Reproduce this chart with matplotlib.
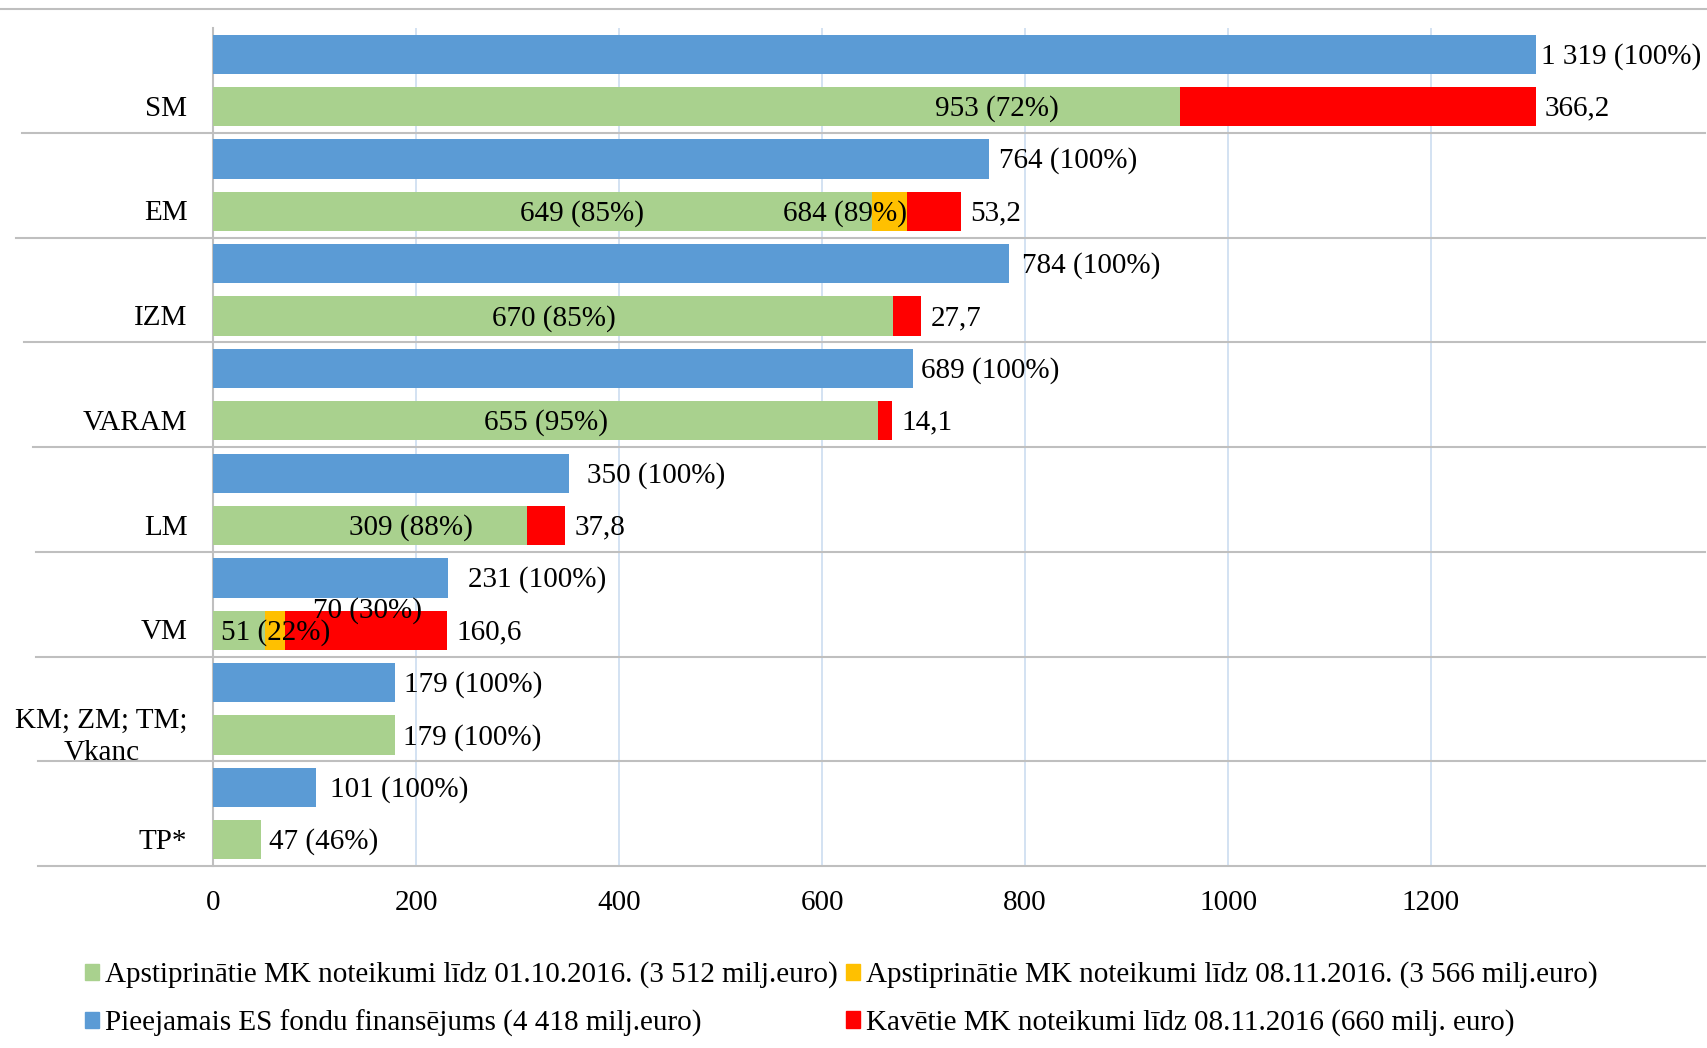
import numpy as np
import matplotlib
matplotlib.use("Agg")
import matplotlib.pyplot as plt
from matplotlib.lines import Line2D
from matplotlib.patches import Patch
from matplotlib.transforms import blended_transform_factory

plt.rcParams['font.family'] = ['Liberation Serif', 'DejaVu Serif']

# ---------------- data ----------------
categories = ['SM', 'EM', 'IZM', 'VARAM', 'LM', 'VM', 'KM; ZM; TM;\nVkanc', 'TP*']
available = [1319, 764, 784, 689, 350, 231, 179, 101]          # Pieejamais ES fondu finansējums
approved_oct = [953, 649, 670, 655, 309, 51, 179, 47]          # līdz 01.10.2016
approved_nov = [953, 684, 670, 655, 309, 70, 179, 47]          # līdz 08.11.2016 (cumulative)
delayed = [366.2, 53.2, 27.7, 14.1, 37.8, 160.6, 0, 0]         # Kavētie MK noteikumi
pct_oct = [72, 85, 85, 95, 88, 22, 100, 46]
pct_nov = [None, 89, None, None, None, 30, None, None]
x_ticks = [0, 200, 400, 600, 800, 1000, 1200]
x_max = 1303   # axis maximum (longest bars are cut at it)

legend_labels = [
    'Apstiprinātie MK noteikumi līdz 01.10.2016. (3 512 milj.euro)',
    'Pieejamais ES fondu finansējums (4 418 milj.euro)',
    'Apstiprinātie MK noteikumi līdz 08.11.2016. (3 566 milj.euro)',
    'Kavētie MK noteikumi līdz 08.11.2016 (660 milj. euro)',
]

# ---------------- style / layout ----------------
C_BLUE = '#5B9BD5'
C_GREEN = '#A9D18E'
C_ORANGE = '#FFC000'
C_RED = '#FF0000'
C_SEP = '#BFBFBF'
C_GRID = '#CCDDF0'
FS = 21
DY = -2  # small downward shift of texts (pixels)

green_label_frac = [0.81, 0.56, 0.5, 0.5, 0.63, None, None, None]
blue_label_off = [5, 10, 13, 8, 18, 20, 9, 14]
sep_left_px = [22, 16, 24, 33, 36, 36, 38, 38]

W, H = 1708, 1048
fig = plt.figure(figsize=(W / 100, H / 100), dpi=100)
px_per_unit = (1431 - 213.5) / 1200
ax_left = 213.5
ax_right = ax_left + x_max * px_per_unit
line_right = 1705
ax_top, ax_bot = 28, 866
ax = fig.add_axes([ax_left / W, 1 - ax_bot / H, (ax_right - ax_left) / W, (ax_bot - ax_top) / H])

n = len(categories)
yc = np.arange(n) + 0.5
yb = yc - 0.25
yg = yc + 0.25
h = 0.375

orange = [b - a for a, b in zip(approved_oct, approved_nov)]

ax.barh(yb, available, height=h, color=C_BLUE, zorder=3)
ax.barh(yg, approved_oct, height=h, color=C_GREEN, zorder=3)
ax.barh(yg, orange, left=approved_oct, height=h, color=C_ORANGE, zorder=3)
ax.barh(yg, delayed, left=approved_nov, height=h, color=C_RED, zorder=3)

ax.set_ylim(n, 0)
ax.set_xlim(0, x_max)
ax.set_xticks(x_ticks)
ax.set_yticks([])
ax.tick_params(axis='x', length=0, pad=17, labelsize=FS)
for x in x_ticks[1:]:
    ax.axvline(x, color=C_GRID, lw=1.2, zorder=1)
for s in ['top', 'right', 'bottom']:
    ax.spines[s].set_visible(False)
ax.spines['left'].set_color(C_SEP)
ax.spines['left'].set_linewidth(1.5)


def fmt_int(v):
    return f"{int(round(v)):,}".replace(',', ' ')


def lab(txt, x, y, dx=0, dy=0, ha='left'):
    ax.annotate(txt, xy=(min(x, x_max), y), xytext=(dx, dy + DY), textcoords='offset pixels',
                ha=ha, va='center', fontsize=FS, annotation_clip=False)


# category labels
for i, c in enumerate(categories):
    ax.annotate(c, xy=(0, yg[i]), xytext=(-26, DY), textcoords='offset pixels',
                ha='right', va='center', fontsize=FS, multialignment='center',
                linespacing=1.3, annotation_clip=False)

# blue labels
for i, v in enumerate(available):
    lab(f"{fmt_int(v)} (100%)", v, yb[i], dx=blue_label_off[i])

# green / orange / red labels
for i in range(n):
    txt = f"{fmt_int(approved_oct[i])} ({pct_oct[i]}%)"
    frac = green_label_frac[i]
    end = approved_nov[i] + delayed[i]
    if frac is not None:
        lab(txt, approved_oct[i] * frac, yg[i], ha='center')
    elif categories[i] == 'VM':
        lab(txt, approved_oct[i] * 1.2, yg[i], ha='center')
    else:
        lab(txt, end, yg[i], dx=8)
    if pct_nov[i] is not None:
        t2 = f"{fmt_int(approved_nov[i])} ({pct_nov[i]}%)"
        if categories[i] == 'VM':
            lab(t2, approved_nov[i] * 2.17, yg[i], dy=22, ha='center')
        else:
            lab(t2, approved_nov[i], yg[i], ha='right')
    if delayed[i] > 0:
        lab(f"{delayed[i]:.1f}".replace('.', ','), end, yg[i], dx=9)

# separator lines (category boundaries) extending into label area
tr = blended_transform_factory(fig.transFigure, ax.transData)
for k in range(1, n + 1):
    ln = Line2D([sep_left_px[k - 1] / W, line_right / W], [k, k], transform=tr,
                color=C_SEP, lw=1.5, clip_on=False, zorder=2)
    ax.add_line(ln)

# top border line
fig.add_artist(Line2D([0, 1], [1 - 9 / H, 1 - 9 / H], transform=fig.transFigure,
                      color=C_SEP, lw=1.5))

handles = [Patch(color=C_GREEN), Patch(color=C_BLUE), Patch(color=C_ORANGE), Patch(color=C_RED)]
fig.legend(handles, legend_labels, ncol=2, loc='center left',
           bbox_to_anchor=(85 / W, 1 - 999 / H), frameon=False, fontsize=21,
           handlelength=0.48, handleheight=0.48, handletextpad=0.2, columnspacing=0.3,
           labelspacing=0.72, borderpad=0, borderaxespad=0)

fig.savefig('out.png', dpi=100)
